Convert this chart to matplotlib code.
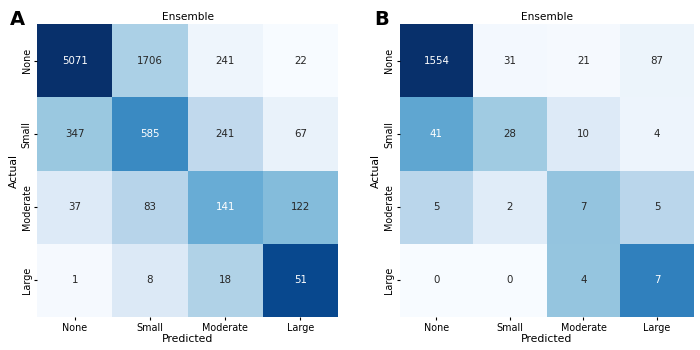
import numpy as np
import matplotlib
matplotlib.use('Agg')
import matplotlib.pyplot as plt
import seaborn as sns

classes = ['None', 'Small', 'Moderate', 'Large']
cm_a = np.array([[5071, 1706, 241, 22],
                 [347, 585, 241, 67],
                 [37, 83, 141, 122],
                 [1, 8, 18, 51]])
cm_b = np.array([[1554, 31, 21, 87],
                 [41, 28, 10, 4],
                 [5, 2, 7, 5],
                 [0, 0, 4, 7]])

fig = plt.figure(figsize=(7, 3.5), dpi=100)
ax1 = fig.add_axes([0.053, 0.094, 0.430, 0.837])
ax2 = fig.add_axes([0.571, 0.094, 0.420, 0.837])

for ax, cm, letter, lx in [(ax1, cm_a, 'A', 10), (ax2, cm_b, 'B', 374)]:
    norm = cm / cm.sum(axis=1, keepdims=True)  # colores normalizados por fila
    sns.heatmap(norm, annot=cm, fmt='d', cmap='Blues', cbar=False, ax=ax,
                xticklabels=classes, yticklabels=classes,
                annot_kws={'fontsize': 7.4})
    ax.set_title('Ensemble', fontsize=7.6, pad=3)
    ax.set_xlabel('Predicted', fontsize=7.8, labelpad=1)
    ax.set_ylabel('Actual', fontsize=7.8, labelpad=2)
    ax.tick_params(labelsize=6.9, length=2, pad=2)
    plt.setp(ax.get_yticklabels(), rotation=90, va='center')
    plt.setp(ax.get_xticklabels(), rotation=0)
    fig.text(lx / 700, 1 - 25 / 350, letter, fontsize=14, fontweight='bold',
             va='baseline', ha='left')

fig.savefig('out.png', dpi=100)
